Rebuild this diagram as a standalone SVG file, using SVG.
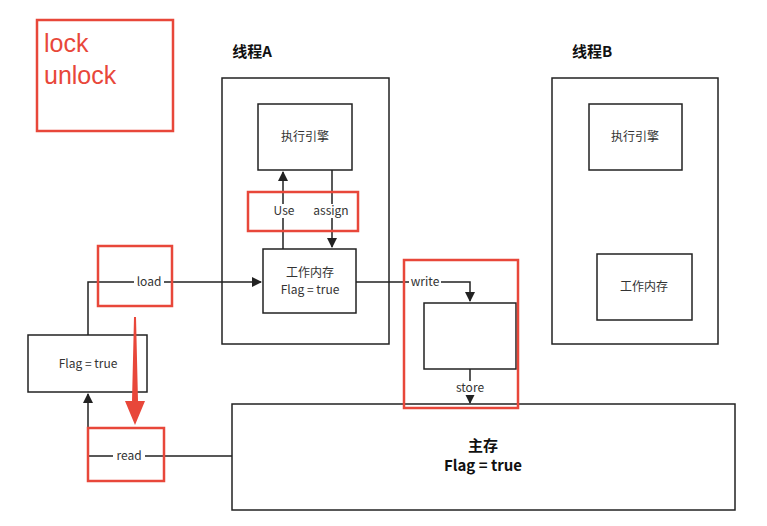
<svg xmlns="http://www.w3.org/2000/svg" width="767" height="526" viewBox="0 0 767 526">
<style>
.b{fill:#fff;stroke:#222;stroke-width:1.5}
.r{fill:none;stroke:#e8473a;stroke-width:2.5}
.l{fill:none;stroke:#222;stroke-width:1.5}
text{font-family:"Noto Sans CJK SC","Liberation Sans",sans-serif;font-size:12px;fill:#333;text-anchor:middle}
.t{font-size:15px;font-weight:bold;fill:#111}
.lb{fill:#fff}
</style>
<defs><marker id="a" markerWidth="10" markerHeight="10" refX="9" refY="5" orient="auto" markerUnits="userSpaceOnUse"><path d="M0,0 L10,5 L0,10 z" fill="#222"/></marker></defs>
<rect width="767" height="526" fill="#fff"/>
<g id="lockbox"><rect class="r" x="37" y="20" width="136" height="111"/>
<text x="44" y="52" style="font-family:'Liberation Sans',sans-serif;font-size:25px;fill:#e8473a;text-anchor:start">lock</text>
<text x="44" y="84" style="font-family:'Liberation Sans',sans-serif;font-size:25px;fill:#e8473a;text-anchor:start">unlock</text></g>
<g id="threadA"><rect class="b" x="222" y="78" width="167" height="266"/><text class="t" x="252" y="57">线程A</text></g>
<g id="threadB"><rect class="b" x="552" y="78" width="166" height="266"/><text class="t" x="592" y="57">线程B</text></g>
<g id="main"><rect class="b" x="232" y="404" width="503" height="106"/><text class="t" x="483" y="451">主存</text><text class="t" x="483" y="471">Flag = true</text></g>
<g id="connectors">
<path class="l" d="M88,335 V282 H261" marker-end="url(#a)"/>
<path class="l" d="M232,456 H88 V394" marker-end="url(#a)"/>
<path class="l" d="M283,249 V172" marker-end="url(#a)"/>
<path class="l" d="M332,170 V247" marker-end="url(#a)"/>
<path class="l" d="M356,282 H470 V301" marker-end="url(#a)"/>
<path class="l" d="M470,369 V403" marker-end="url(#a)"/>
<rect class="lb" x="134" y="275" width="30" height="14"/><text x="149" y="286">load</text>
<rect class="lb" x="113" y="449" width="32" height="14"/><text x="129" y="460">read</text>
<rect class="lb" x="270" y="204" width="28" height="14"/><text x="284" y="215">Use</text>
<rect class="lb" x="312" y="204" width="40" height="14"/><text x="331" y="215">assign</text>
<rect class="lb" x="409" y="275" width="32" height="14"/><text x="425" y="286">write</text>
<rect class="lb" x="453" y="381" width="34" height="14"/><text x="470" y="392">store</text>
</g>
<g id="execA"><rect class="b" x="258" y="104" width="94" height="66"/><text x="305" y="141">执行引擎</text></g>
<g id="workA"><rect class="b" x="263" y="249" width="93" height="64"/><text x="310" y="277">工作内存</text><text x="310" y="294">Flag = true</text></g>
<g id="execB"><rect class="b" x="589" y="104" width="93" height="66"/><text x="635" y="141">执行引擎</text></g>
<g id="workB"><rect class="b" x="597" y="254" width="95" height="66"/><text x="644" y="291">工作内存</text></g>
<g id="flag"><rect class="b" x="28" y="335" width="119" height="57"/><text x="88" y="368">Flag = true</text></g>
<g id="store"><rect class="b" x="424" y="303" width="92" height="66"/></g>
<g id="highlights">
<rect class="r" x="98" y="246" width="74" height="60"/>
<rect class="r" x="88" y="428" width="76" height="53"/>
<rect class="r" x="248" y="192" width="110" height="39"/>
<rect class="r" x="404" y="260" width="114" height="148"/>
<path d="M134,317 L136,317 L138,401 L145,401 L135,425 L125,401 L132,401 z" fill="#e8473a"/>
</g>
</svg>
